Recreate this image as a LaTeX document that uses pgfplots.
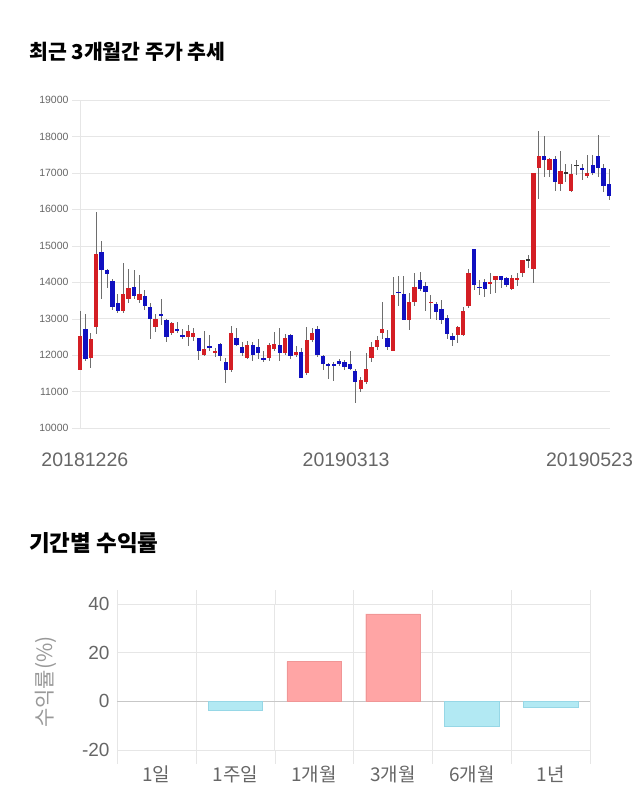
\documentclass[border=0pt]{standalone}
\usepackage{pgfplots}
\pgfplotsset{compat=1.18}
\usepackage{pgfplotstable}
\usepackage{fontspec}
\setmainfont{Liberation Sans}
\newfontfamily\kr{Noto Sans CJK KR}
\definecolor{cRed}{RGB}{212,30,36}
\definecolor{cBlue}{RGB}{16,16,192}
\definecolor{gridc}{RGB}{230,230,230}
\definecolor{barR}{RGB}{255,165,165}
\definecolor{barRe}{RGB}{240,150,150}
\definecolor{barB}{RGB}{178,233,243}
\definecolor{barBe}{RGB}{150,215,230}
\definecolor{txt}{RGB}{102,102,102}
\definecolor{wick}{RGB}{110,110,110}

\pgfplotstableread{
i O H L C
0 11600 13200 11580 12530
2 11920 12600 11650 12430
3 12770 15930 12570 14780
8 13210 14520 13160 13680
9 13530 14370 13440 13830
11 13500 14200 13440 13670
14 12770 13120 12630 12980
17 12600 12900 12540 12890
20 12510 12830 12260 12670
21 12510 12750 12400 12620
23 12000 12650 11980 12160
25 12055 12200 11950 12120
28 11597 12810 11550 12602
31 11916 12380 11880 12264
35 11916 12330 11840 12264
36 12163 12640 12100 12300
38 12054 12570 11990 12465
40 12008 12260 11960 12099
42 11505 12780 11460 12419
43 12419 12750 12370 12602
52 11066 11400 10980 11322
53 11258 12050 11200 11616
54 11909 12350 11800 12221
55 12221 12520 12140 12423
56 12600 13470 12450 12716
58 12111 14150 12100 13661
61 12955 13700 12700 13459
62 13459 14250 13350 13872
65 13431 13650 13000 13468
70 12565 12800 12340 12766
71 12565 13320 12520 13203
72 13358 14350 13300 14252
76 13960 14250 13680 14006
77 14070 14170 13700 14161
80 13809 14200 13780 14119
81 14055 14250 13900 14119
82 14247 14620 14150 14611
84 14356 17007 13990 17007
85 17144 18137 16296 17463
87 17089 17420 16900 17390
89 16706 17590 16500 17053
91 16497 17250 16480 16961
94 16907 17500 16850 16998
}\up

\pgfplotstableread{
i O H L C
1 12720 13120 11850 11880
4 14840 15130 13530 14330
5 14330 14350 13850 14230
6 14030 14100 13250 13330
7 13420 13670 13160 13220
10 13880 14330 13530 13620
12 13620 13800 13250 13360
13 13330 13440 12430 12980
15 13130 13530 12830 13070
16 12970 12980 12350 12510
18 12710 12900 12600 12650
19 12560 12720 12430 12510
22 12460 12480 11870 12100
24 12260 12560 12100 12210
26 12310 12340 11830 11962
27 11816 11918 11230 11597
29 12465 12740 12240 12264
30 12218 12360 11970 12054
32 12264 12370 11830 12008
33 12218 12450 11880 12054
34 11916 12120 11800 11862
37 12264 12750 11830 12054
39 12556 12580 11900 11962
41 12099 12200 11368 11368
44 12711 12800 11960 12008
45 11962 12000 11600 11761
46 11761 11780 11350 11715
47 11760 11800 11280 11720
48 11845 11900 11700 11753
49 11808 11870 11600 11671
50 11753 12100 11580 11616
51 11552 11620 10680 11249
57 12469 12700 12150 12221
59 13735 14160 13340 13705
60 13679 14160 12950 12973
63 14070 14280 13750 13814
64 13906 14000 13200 13723
66 13413 13450 12950 13176
67 13267 13500 12850 12975
68 13021 13100 12450 12583
69 12519 12600 12250 12410
73 14909 14909 13800 13933
74 13869 14050 13650 13842
75 14006 14100 13600 13814
78 14161 14170 13850 14070
79 14110 14150 13860 13910
86 17453 18000 16880 17344
88 17390 17450 16500 16743
93 17135 17250 16800 17100
95 17207 17500 16950 16998
96 17463 18027 16880 17144
97 17144 17250 16480 16652
98 16688 17100 16250 16360
}\dn

\pgfplotstableread{
i O H L C
83 14600 14750 14400 14625
90 16998 17250 16750 17020
92 17207 17350 16950 17225
}\flat

\pgfplotsset{
  wickplot/.style={draw=none, mark=none, forget plot,
    error bars/.cd, y dir=both, y explicit, error mark=none,
    error bar style={line width=0.7pt, draw=wick, solid}},
  bodyplot/.style={draw=none, mark=none, forget plot,
    error bars/.cd, y dir=both, y explicit, error mark=none,
    error bar style={line width=4.3pt, draw=#1, solid}},
}

\begin{document}
\begin{tikzpicture}[x=1pt,y=1pt]
\path[use as bounding box] (0,0) rectangle (640,810);

\node[anchor=west, font=\kr\bfseries\fontsize{20.5}{23}\selectfont, inner sep=0pt] at (29,758) {최근 3개월간 주가 추세};
\node[anchor=west, font=\kr\bfseries\fontsize{22.5}{25}\selectfont, inner sep=0pt] at (29,267) {기간별 수익률};

\begin{axis}[
  at={(80pt,382pt)}, anchor=south west,
  width=530pt, height=328pt, scale only axis,
  xmin=0, xmax=98.2, ymin=10000, ymax=19000,
  clip=false,
  ytick={10000,11000,...,19000},
  scaled y ticks=false,
  ymajorgrids, grid style={gridc},
  axis y line*=left, axis x line*=bottom,
  y axis line style={gridc},
  x axis line style={gridc},
  axis line style={-},
  ytick style={draw=gridc},
  major tick length=8pt, tick align=outside,
  xtick={0.9,49.3,94.4},
  xticklabels={20181226,20190313,20190523},
  xtick style={draw=none},
  xticklabel style={font=\fontsize{19.5}{21}\selectfont, text=txt, yshift=-13pt},
  yticklabel style={font=\fontsize{10.5}{12}\selectfont, text=txt},
  /pgf/number format/1000 sep={},
  /pgf/number format/assume math mode=true,
]
\addplot[wickplot] table[x=i, y expr=(\thisrow{H}+\thisrow{L})/2, y error expr=(\thisrow{H}-\thisrow{L})/2] {\up};
\addplot[wickplot] table[x=i, y expr=(\thisrow{H}+\thisrow{L})/2, y error expr=(\thisrow{H}-\thisrow{L})/2] {\dn};
\addplot[wickplot] table[x=i, y expr=(\thisrow{H}+\thisrow{L})/2, y error expr=(\thisrow{H}-\thisrow{L})/2] {\flat};
\addplot[bodyplot=cRed] table[x=i, y expr=(\thisrow{O}+\thisrow{C})/2, y error expr=abs(\thisrow{C}-\thisrow{O})/2] {\up};
\addplot[bodyplot=cBlue] table[x=i, y expr=(\thisrow{O}+\thisrow{C})/2, y error expr=abs(\thisrow{C}-\thisrow{O})/2] {\dn};
\addplot[bodyplot=black!80] table[x=i, y expr=(\thisrow{O}+\thisrow{C})/2, y error expr=abs(\thisrow{C}-\thisrow{O})/2] {\flat};
\end{axis}

\begin{axis}[
  at={(117pt,60pt)}, anchor=south west,
  width=473pt, height=146pt, scale only axis,
  xmin=-0.5, xmax=5.5, ymin=-20, ymax=40,
  ytick={-20,0,20,40},
  xtick={0,...,5},
  xticklabels={1일,1주일,1개월,3개월,6개월,1년},
  minor xtick={-0.5,0.5,...,5.5},
  xminorgrids, ymajorgrids,
  grid style={gridc}, minor grid style={gridc},
  extra y ticks={0}, extra y tick labels={},
  extra y tick style={grid style={draw=black!22}},
  axis line style={draw=none},
  major tick length=0pt, minor tick length=14pt, tick align=outside,
  minor x tick style={draw=gridc},
  xticklabel style={font=\kr\fontsize{19}{21}\selectfont, text=txt, yshift=-12pt},
  yticklabel style={font=\fontsize{19}{21}\selectfont, text=txt, xshift=-4pt},
  /pgf/number format/assume math mode=true,
  ybar, bar width=0.69, bar shift=0pt,
]
\addplot[fill=barR, draw=barRe] coordinates {(2,16.3) (3,35.9)};
\addplot[fill=barB, draw=barBe] coordinates {(1,-3.7) (4,-10.3) (5,-2.3)};
\end{axis}

\node[rotate=90, font=\kr\fontsize{21}{23}\selectfont, text=black!40] at (46,128) {수익률(\%)};
\end{tikzpicture}
\end{document}
